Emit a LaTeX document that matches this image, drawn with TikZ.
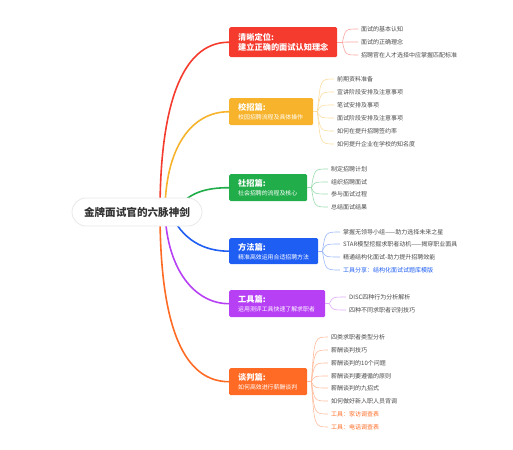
\documentclass[tikz,border=0pt]{standalone}
\usepackage{fontspec}
\setmainfont{Noto Sans CJK SC}
\usetikzlibrary{calc,positioning,backgrounds}
\definecolor{RedClr}{HTML}{F53A2E}
\definecolor{YellowClr}{HTML}{F6B32B}
\definecolor{GreenClr}{HTML}{22AD4B}
\definecolor{BlueClr}{HTML}{1F5EF3}
\definecolor{PurpleClr}{HTML}{B740F5}
\definecolor{OrangeClr}{HTML}{FF6B24}
\definecolor{TxtClr}{HTML}{4A4A4A}
\definecolor{RootClr}{HTML}{333333}
\newcommand\ttl{\fontsize{8.2}{11}\selectfont\bfseries}
\newcommand\sbt{\fontsize{5.9}{8}\selectfont\mdseries}

\tikzset{
  root/.style={rectangle,rounded corners=14pt,draw=black!9,line width=0.8pt,fill=white,
    minimum width=130pt,minimum height=28pt,text=RootClr,font=\fontsize{10.6}{12}\selectfont\bfseries},
  topic/.style={rectangle,rounded corners=1.5pt,fill=#1,text=white,anchor=north west,
    align=left,inner xsep=9pt,inner ysep=0pt,font=\ttl},
  leaf/.style={anchor=west,inner sep=3pt,text=TxtClr,font=\fontsize{6}{7}\selectfont},
  mainline/.style={line width=1.6pt,#1},
  subline/.style={line width=0.6pt,#1!45},
}

\begin{document}
\begin{tikzpicture}[x=1pt,y=-1pt]
\useasboundingbox (0,0) rectangle (513,449);

\node[root] (root) at (137,212) {金牌面试官的六脉神剑};

% topics
\node[topic=RedClr,text width=90pt,minimum height=30pt] (clr) at (229,27)
  {清晰定位:\\[-1pt]建立正确的面试认知理念};
\node[topic=YellowClr,text width=66pt,minimum height=27pt] (xz) at (229,98)
  {校招篇:\\[-2pt]{\sbt 校园招聘流程及具体操作}};
\node[topic=GreenClr,text width=60pt,minimum height=27pt] (sz) at (229,174)
  {社招篇:\\[-2pt]{\sbt 社会招聘的流程及核心}};
\node[topic=BlueClr,text width=71pt,minimum height=26pt] (ff) at (229,238)
  {方法篇:\\[-2pt]{\sbt 精准高效运用合适招聘方法}};
\node[topic=PurpleClr,text width=78pt,minimum height=27pt] (gj) at (229,290)
  {工具篇:\\[-2pt]{\sbt 运用测评工具快速了解求职者}};
\node[topic=OrangeClr,text width=60pt,minimum height=27pt] (tp) at (229,368)
  {谈判篇:\\[-2pt]{\sbt 如何高效进行薪酬谈判}};

% leaves
\node[leaf] (r1) at (358,29) {面试的基本认知};
\node[leaf] (r2) at (358,42) {面试的正确理念};
\node[leaf] (r3) at (358,55) {招聘官在人才选择中应掌握匹配标准};

\node[leaf] (y1) at (334,79) {前期资料准备};
\node[leaf] (y2) at (334,92) {宣讲阶段安排及注意事项};
\node[leaf] (y3) at (334,105) {笔试安排及事项};
\node[leaf] (y4) at (334,118) {面试阶段安排及注意事项};
\node[leaf] (y5) at (334,131) {如何在提升招聘签约率};
\node[leaf] (y6) at (334,144) {如何提升企业在学校的知名度};

\node[leaf] (g1) at (328,169) {制定招聘计划};
\node[leaf] (g2) at (328,182) {组织招聘面试};
\node[leaf] (g3) at (328,194) {参与面试过程};
\node[leaf] (g4) at (328,207) {总结面试结果};

\node[leaf] (b1) at (340,232) {掌握无领导小组——助力选择未来之星};
\node[leaf] (b2) at (340,244) {STAR模型挖掘求职者动机——揭穿职业面具};
\node[leaf] (b3) at (340,257) {精通结构化面试-助力提升招聘效能};
\node[leaf,text=BlueClr] (b4) at (340,270) {工具分享：结构化面试试题库模版};

\node[leaf] (p1) at (346,297) {DISC四种行为分析解析};
\node[leaf] (p2) at (346,310) {四种不同求职者识别技巧};

\node[leaf] (o1) at (328,337) {四类求职者类型分析};
\node[leaf] (o2) at (328,350) {薪酬谈判技巧};
\node[leaf] (o3) at (328,363) {薪酬谈判的10个问题};
\node[leaf] (o4) at (328,376) {薪酬谈判要遵循的原则};
\node[leaf] (o5) at (328,388) {薪酬谈判的九招式};
\node[leaf] (o6) at (328,401) {如何做好新入职人员背调};
\node[leaf,text=OrangeClr] (o7) at (328,414) {工具：家访调查表};
\node[leaf,text=OrangeClr] (o8) at (328,427) {工具：电话调查表};

% forks
\coordinate (fR) at ($(clr.east)+(5,0)$);  \coordinate (cR) at ($(fR)+(3,0)$);
\coordinate (fY) at ($(xz.east)+(4,0)$);   \coordinate (cY) at ($(fY)+(3,0)$);
\coordinate (fG) at ($(sz.east)+(4,0)$);   \coordinate (cG) at ($(fG)+(3,0)$);
\coordinate (fB) at ($(ff.east)+(4,0)$);   \coordinate (cB) at ($(fB)+(3,0)$);
\coordinate (fP) at ($(gj.east)+(4,0)$);   \coordinate (cP) at ($(fP)+(3,0)$);
\coordinate (fO) at ($(tp.east)+(4,0)$);   \coordinate (cO) at ($(fO)+(3,0)$);

\begin{scope}[on background layer]
\draw[mainline=RedClr] ($(root.center)+(23,0)$) .. controls +(0,-102) and +(-49,0) .. (clr.west);
\draw[mainline=YellowClr] ($(root.center)+(28,0)$) .. controls +(0,-62) and +(-39,0) .. (xz.west);
\draw[mainline=GreenClr] ($(root.center)+(38,0)$) .. controls +(12,-20) and +(-22,0) .. (sz.west);
\draw[mainline=BlueClr] ($(root.center)+(33,0)$) .. controls +(12,28) and +(-25,0) .. (ff.west);
\draw[mainline=PurpleClr] ($(root.center)+(28,0)$) .. controls +(2,58) and +(-34,0) .. (gj.west);
\draw[mainline=OrangeClr] ($(root.center)+(23,0)$) .. controls +(0,118) and +(-44,0) .. (tp.west);
\end{scope}

\draw[subline=RedClr] (clr.east) -- (fR);
\foreach \n in {r1,r2,r3}
  \draw[subline=RedClr] (fR) .. controls (cR |- \n.west) .. (\n.west);
\draw[subline=YellowClr] (xz.east) -- (fY);
\foreach \n in {y1,y2,y3,y4,y5,y6}
  \draw[subline=YellowClr] (fY) .. controls (cY |- \n.west) .. (\n.west);
\draw[subline=GreenClr] (sz.east) -- (fG);
\foreach \n in {g1,g2,g3,g4}
  \draw[subline=GreenClr] (fG) .. controls (cG |- \n.west) .. (\n.west);
\draw[subline=BlueClr] (ff.east) -- (fB);
\foreach \n in {b1,b2,b3,b4}
  \draw[subline=BlueClr] (fB) .. controls (cB |- \n.west) .. (\n.west);
\draw[subline=PurpleClr] (gj.east) -- (fP);
\foreach \n in {p1,p2}
  \draw[subline=PurpleClr] (fP) .. controls (cP |- \n.west) .. (\n.west);
\draw[subline=OrangeClr] (tp.east) -- (fO);
\foreach \n in {o1,o2,o3,o4,o5,o6,o7,o8}
  \draw[subline=OrangeClr] (fO) .. controls (cO |- \n.west) .. (\n.west);

\end{tikzpicture}
\end{document}
